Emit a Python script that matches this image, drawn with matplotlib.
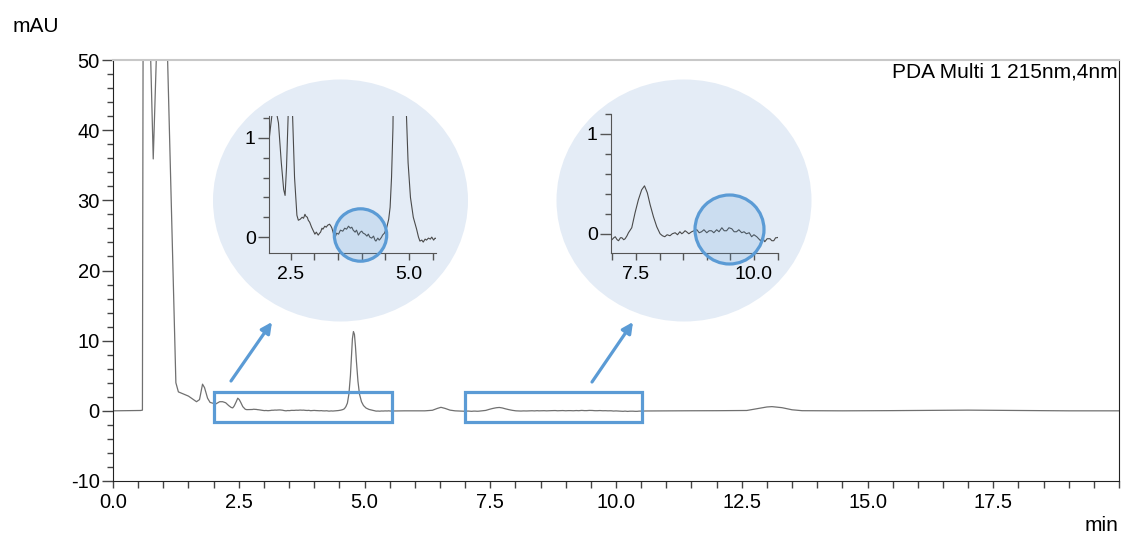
import numpy as np
import matplotlib
matplotlib.use('Agg')
import matplotlib.pyplot as plt
from matplotlib.patches import Circle, Ellipse, Rectangle
from matplotlib.ticker import MultipleLocator, FixedLocator, FormatStrFormatter

plt.rcParams['font.family'] = ['Liberation Sans', 'DejaVu Sans']
plt.rcParams['axes.unicode_minus'] = False

# chromatogram trace (min, mAU)
t_min = [0.0, 0.3, 0.55, 0.585, 0.6, 0.7, 0.8, 0.92, 1.0, 1.05, 1.25, 1.3, 1.4, 1.5, 1.6, 1.66,
         1.72, 1.78, 1.82, 1.88, 1.93, 2.0,
         2.04, 2.07, 2.12, 2.18, 2.24, 2.3, 2.35, 2.38, 2.41, 2.45, 2.48, 2.51, 2.54, 2.58,
         2.63, 2.66, 2.70, 2.74, 2.77, 2.80, 2.82, 2.85, 2.87, 2.90, 2.94, 2.97, 3.01, 3.04,
         3.08, 3.11, 3.13, 3.16, 3.18, 3.22, 3.25, 3.28, 3.32, 3.35, 3.37, 3.40, 3.44, 3.47,
         3.51, 3.55, 3.60, 3.64, 3.68, 3.72, 3.76, 3.79, 3.82, 3.86, 3.89, 3.93, 3.97, 4.00,
         4.03, 4.07, 4.11, 4.14, 4.17, 4.21, 4.25, 4.28, 4.30, 4.34, 4.37, 4.39, 4.42, 4.44,
         4.48, 4.53, 4.57, 4.60, 4.63, 4.66, 4.69, 4.72, 4.74, 4.76, 4.78, 4.80, 4.82, 4.84,
         4.87, 4.90, 4.94, 4.98, 5.03, 5.09, 5.16, 5.20, 5.23, 5.27, 5.30, 5.34, 5.37, 5.41,
         5.45, 5.48, 5.52, 5.55, 5.60, 5.8, 6.0, 6.2, 6.35, 6.45, 6.52, 6.6, 6.7, 6.8, 6.95,
         6.99, 7.03, 7.06, 7.10, 7.13, 7.17, 7.20, 7.24, 7.27, 7.31, 7.34, 7.41, 7.48, 7.55,
         7.62, 7.68, 7.74, 7.80, 7.87, 7.94, 8.01, 8.06, 8.11, 8.16, 8.22, 8.27, 8.33, 8.38,
         8.43, 8.47, 8.50, 8.54, 8.57, 8.62, 8.68, 8.73, 8.79, 8.84, 8.89, 8.94, 9.00, 9.05,
         9.10, 9.15, 9.21, 9.26, 9.32, 9.37, 9.42, 9.47, 9.53, 9.58, 9.63, 9.68, 9.74, 9.79,
         9.84, 9.90, 9.95, 10.00, 10.06, 10.10, 10.14, 10.18, 10.23, 10.28, 10.34, 10.38,
         10.42, 10.46, 10.49, 10.6, 11.0, 11.5, 12.0, 12.6, 12.8, 13.0, 13.1, 13.3, 13.5,
         13.7, 14.5, 15.5, 16.5, 17.0, 18.0, 19.0, 20.0]
mau = [0.0, 0.02, 0.05, 0.1, 60.0, 64.0, 35.9, 64.0, 70.0, 60.0, 4.0, 2.7, 2.4, 2.1, 1.6, 1.3,
       1.6, 3.8, 3.3, 1.8, 1.2, 1.05,
       0.97, 1.10, 1.30, 1.30, 1.15, 0.75, 0.48, 0.42, 0.70, 1.30, 1.80, 1.60, 1.20, 0.60,
       0.22, 0.17, 0.18, 0.20, 0.19, 0.23, 0.21, 0.20, 0.17, 0.15, 0.10, 0.07, 0.03, 0.05,
       0.02, 0.04, 0.05, 0.09, 0.08, 0.11, 0.10, 0.12, 0.13, 0.11, 0.09, 0.04, 0.00, 0.04,
       0.03, 0.07, 0.06, 0.09, 0.08, 0.11, 0.09, 0.10, 0.07, 0.05, 0.07, 0.02, 0.05, 0.06,
       0.04, 0.03, 0.01, 0.03, 0.00, -0.01, 0.01, -0.03, -0.04, -0.01, -0.03, -0.02, 0.00, 0.02,
       0.04, 0.10, 0.18, 0.30, 0.60, 1.10, 2.4, 5.0, 7.6, 10.3, 11.3, 10.9, 9.2, 7.0,
       4.2, 2.4, 1.3, 0.75, 0.40, 0.20, 0.08, 0.00, -0.04, -0.03, -0.05, -0.02, -0.03, -0.01,
       -0.02, 0.00, -0.03, -0.01, -0.02, 0.0, 0.0, 0.0, 0.08, 0.35, 0.5, 0.35, 0.1, 0.0, -0.05,
       -0.06, -0.04, -0.03, -0.06, -0.07, -0.04, -0.04, -0.06, -0.05, -0.02, 0.01, 0.06, 0.21, 0.34,
       0.44, 0.48, 0.41, 0.29, 0.17, 0.07, 0.00, -0.02, -0.03, -0.01, -0.02, 0.00, 0.01, -0.01,
       0.02, 0.00, 0.01, 0.03, 0.02, 0.00, 0.02, 0.03, 0.04, 0.01, 0.02, 0.04, 0.01, 0.03,
       0.03, 0.01, 0.04, 0.02, 0.06, 0.03, 0.03, 0.06, 0.05, 0.02, 0.02, 0.04, 0.01, 0.02,
       0.00, 0.01, -0.03, -0.01, -0.03, -0.05, -0.07, -0.04, -0.08, -0.05, -0.05, -0.07,
       -0.07, -0.04, -0.04, -0.02, 0.0, 0.01, 0.02, 0.05, 0.3, 0.55, 0.6, 0.45, 0.15,
       0.02, 0.0, 0.03, 0.08, 0.1, 0.05, 0.0, 0.0]

x_ticks = [0.0, 2.5, 5.0, 7.5, 10.0, 12.5, 15.0, 17.5]
zoom_ranges = [(2.0, 5.55), (7.0, 10.52)]
blue = '#5b9bd5'

fig = plt.figure(figsize=(11.23, 5.35), dpi=100)
ax = fig.add_axes([113 / 1123, 1 - 481 / 535, 1006 / 1123, 421 / 535])
ax.plot(t_min, mau, color='#707070', lw=0.9)
ax.set_xlim(0, 20)
ax.set_ylim(-10, 50)
ax.xaxis.set_major_locator(FixedLocator(x_ticks))
ax.xaxis.set_minor_locator(MultipleLocator(0.5))
ax.xaxis.set_major_formatter(FormatStrFormatter('%.1f'))
ax.yaxis.set_major_locator(MultipleLocator(10))
ax.yaxis.set_minor_locator(MultipleLocator(2))
ax.tick_params(axis='x', which='both', length=4.7, width=1, color='#444444', labelsize=14.5, pad=4)
ax.tick_params(axis='y', which='major', length=8, width=1, color='#444444', labelsize=14.5, pad=1.5)
ax.tick_params(axis='y', which='minor', length=4.3, width=1, color='#444444')
ax.spines['top'].set_color('#c8c8c8')
ax.spines['top'].set_linewidth(1.5)
for s in ['left', 'bottom', 'right']:
    ax.spines[s].set_color('#222222')

ax.text(0.9985, 1 - 17 / 421, 'PDA Multi 1 215nm,4nm', transform=ax.transAxes,
        ha='right', va='baseline', fontsize=15)
fig.text(13 / 1123, 1 - 32 / 535, 'mAU', ha='left', va='baseline', fontsize=15)
fig.text(1118 / 1123, 1 - 531 / 535, 'min', ha='right', va='baseline', fontsize=15)

# zoom boxes on the main trace
for x0, x1 in zoom_ranges:
    ax.add_patch(Rectangle((x0, -1.55), x1 - x0, 4.3, fill=False, ec=blue, lw=2.3, zorder=3))

# arrows (figure pixels)
for tail, head in [((231, 154), (272, 213)), ((592, 153), (633, 213))]:
    ax.annotate('', xy=head, xytext=tail, xycoords='figure pixels', textcoords='figure pixels',
                arrowprops=dict(arrowstyle='-|>', color=blue, lw=2.3, mutation_scale=16,
                                shrinkA=0, shrinkB=0), annotation_clip=False)

# background discs for the insets (inches)
for cx in [3.405, 6.84]:
    fig.add_artist(Ellipse((cx, 3.345), 2.55, 2.42, transform=fig.dpi_scale_trans,
                           facecolor='#e4ecf6', edgecolor='none', zorder=1))

inset_boxes = [[269 / 1123, 1 - 253 / 535, 167 / 1123, 137 / 535],
               [611 / 1123, 1 - 252.7 / 535, 167 / 1123, 138.7 / 535]]
inset_xlims = [(2.04, 5.57), (6.97, 10.51)]
inset_ylims = [(-0.16, 1.22), (-0.19, 1.2)]
inset_xticks = [[2.5, 5.0], [7.5, 10.0]]
marks = [((3.605, 3.00), 0.262), ((7.295, 3.055), 0.345)]

for box, xl, yl, xt, (c, r) in zip(inset_boxes, inset_xlims, inset_ylims, inset_xticks, marks):
    ia = fig.add_axes(box, zorder=5)
    ia.patch.set_alpha(0)
    ia.plot(t_min, mau, color='#4a4a4a', lw=0.8)
    ia.set_xlim(*xl)
    ia.set_ylim(*yl)
    ia.xaxis.set_major_locator(FixedLocator(xt))
    ia.xaxis.set_minor_locator(MultipleLocator(0.5))
    ia.xaxis.set_major_formatter(FormatStrFormatter('%.1f'))
    ia.yaxis.set_major_locator(FixedLocator([0, 1]))
    ia.yaxis.set_minor_locator(MultipleLocator(0.2))
    ia.tick_params(axis='x', which='both', length=5, width=1, color='#555555', labelsize=14, pad=4.5)
    ia.tick_params(axis='y', which='major', length=8, width=1, color='#555555', labelsize=14, pad=1.5)
    ia.tick_params(axis='y', which='minor', length=4.3, width=1, color='#555555')
    for s in ['top', 'right']:
        ia.spines[s].set_visible(False)
    for s in ['left', 'bottom']:
        ia.spines[s].set_color('#555555')
    ia.add_patch(Circle(c, r, transform=fig.dpi_scale_trans, facecolor=(0.357, 0.608, 0.835, 0.18),
                        edgecolor=blue, lw=2.3, clip_on=False, zorder=4))

plt.savefig('out.png', dpi=100)
plt.close()
